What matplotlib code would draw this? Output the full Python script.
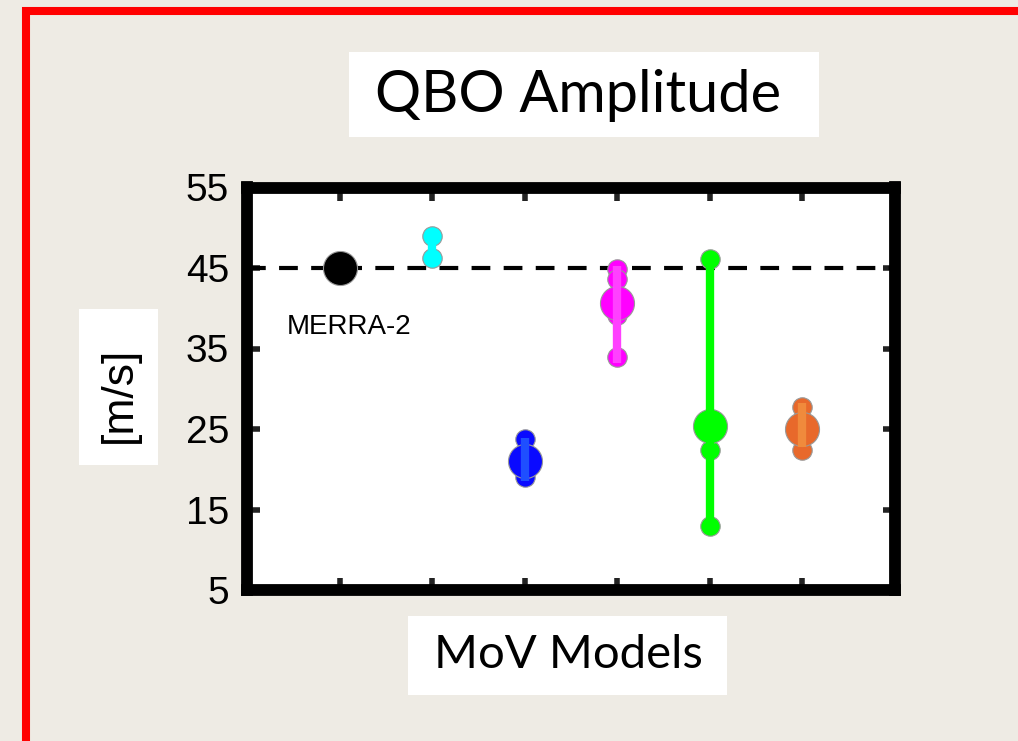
import matplotlib.pyplot as plt
from matplotlib.patches import Rectangle

# QBO amplitude per MoV model group, in m/s
models = ["MERRA-2", "M1", "M2", "M3", "M4", "M5"]
xpos = [1, 2, 3, 4, 5, 6]
colors = ["#000000", "#00ffff", "#0a0aff", "#ff00ff", "#00ff00", "#e8692b"]
line_colors = ["#000000", "#00ffff", "#1f4fff", "#ff40ff", "#00ff00", "#f08a3c"]

# individual members (small dots)
members = [
    [],
    [49.0, 46.3],
    [23.8, 20.4, 19.0],
    [44.9, 43.6, 41.3, 39.2, 33.9],
    [46.1, 22.4, 13.0],
    [27.7, 22.4],
]
# ensemble mean (large dot)
means = [45.0, None, 21.0, 40.6, 25.4, 25.0]
# vertical spread bars
range_lo = [None, 46.3, 18.6, 33.2, 13.0, 22.8]
range_hi = [None, 49.0, 23.9, 45.2, 46.1, 28.2]

obs_ref = 45.0
yticks = [5, 15, 25, 35, 45, 55]

W, H = 1018, 741
fig = plt.figure(figsize=(W / 100, H / 100), dpi=100)
fig.patch.set_facecolor("#eeebe4")


def px(x, y):
    # pixel position (from top-left) -> figure fraction
    return x / W, 1 - y / H


def box(x0, y0, x1, y1):
    fx0, fy1 = px(x0, y0)
    fx1, fy0 = px(x1, y1)
    fig.patches.append(Rectangle((fx0, fy0), fx1 - fx0, fy1 - fy0,
                                 transform=fig.transFigure,
                                 facecolor="white", edgecolor="none", zorder=0))


# red frame around the panel
fx0, fy1 = px(26, 11)
fx1, fy0 = px(1040, 743)
fig.patches.append(Rectangle((fx0, fy0), fx1 - fx0, fy1 - fy0,
                             transform=fig.transFigure, facecolor="none",
                             edgecolor="#ff0000", linewidth=5.8, zorder=0))

# white label boxes
box(349, 52, 819, 137)
box(79, 309, 158, 465)
box(408, 616, 727, 695)

l, t = px(247, 187.5)
r, b = px(895, 590)
ax = fig.add_axes([l, b, r - l, t - b])
ax.set_facecolor("white")

for i, x in enumerate(xpos):
    if range_lo[i] is not None:
        ax.plot([x, x], [range_lo[i], range_hi[i]], color=line_colors[i],
                lw=6, solid_capstyle="butt", zorder=5)
    if members[i]:
        ax.plot([x] * len(members[i]), members[i], "o", ms=14,
                color=colors[i], mec="#999999", mew=0.8, zorder=3)
    if means[i] is not None:
        ax.plot(x, means[i], "o", ms=24.5, color=colors[i],
                mec="#999999", mew=0.8, zorder=4)

ax.axhline(obs_ref, color="black", lw=3, dashes=(4.5, 3.2), zorder=2)

ax.text(1.1, 36.8, models[0], ha="center", va="baseline", fontsize=20,
        family="Liberation Sans")

ax.set_xlim(0, 7)
ax.set_ylim(5, 55)
ax.set_xticks(xpos)
ax.set_xticklabels([])
ax.set_yticks(yticks)
ax.set_yticklabels([str(v) for v in yticks], fontsize=28,
                   family="Liberation Sans")
ax.tick_params(direction="in", length=9, width=4, color="#222222",
               top=True, right=True, pad=13)
for s in ax.spines.values():
    s.set_linewidth(8.5)
    s.set_color("black")

fig.text(*px(578, 112), "QBO Amplitude", ha="center", va="baseline",
         fontsize=41.5, family="Lato")
fig.text(*px(568, 668), "MoV Models", ha="center", va="baseline",
         fontsize=34, family="Lato")
fig.text(*px(119, 395), "[m/s]", ha="center", va="center", rotation=90,
         fontsize=32, family="Liberation Sans")

fig.savefig("out.png", dpi=100, facecolor=fig.get_facecolor())
